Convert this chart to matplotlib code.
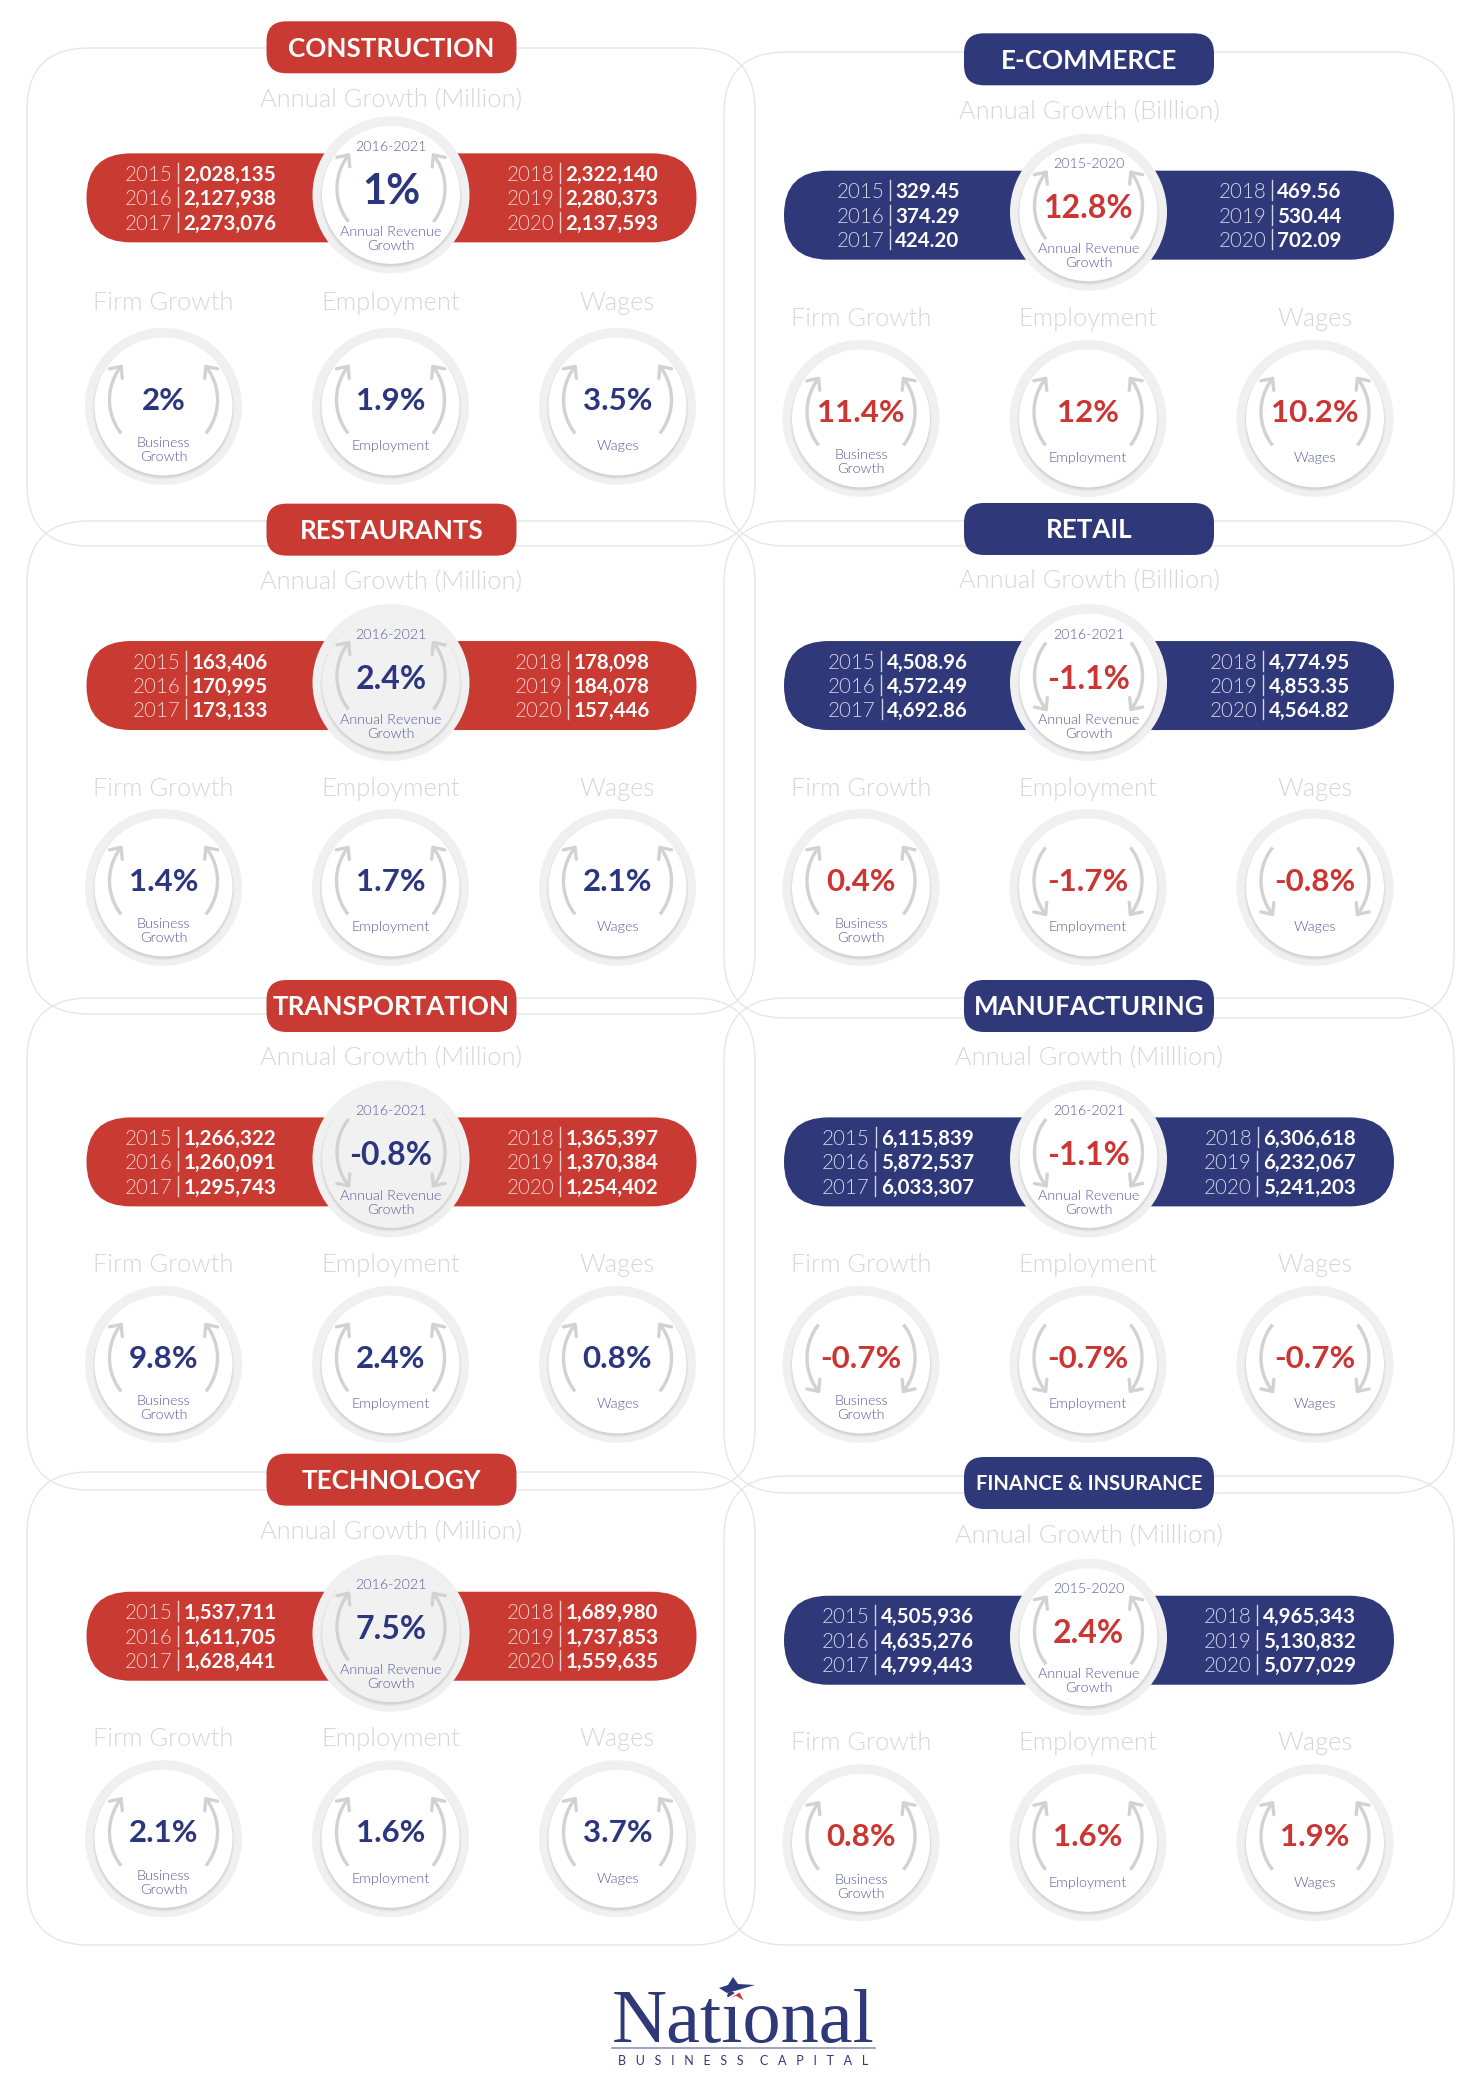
import os
import numpy as np
import matplotlib
matplotlib.use("Agg")
import matplotlib.pyplot as plt
from matplotlib import font_manager as fm
from matplotlib.patches import FancyBboxPatch, Circle, Polygon

# ---------- data ----------
SECTORS = ["CONSTRUCTION", "E-COMMERCE", "RESTAURANTS", "RETAIL",
           "TRANSPORTATION", "MANUFACTURING", "TECHNOLOGY", "FINANCE & INSURANCE"]
UNITS = ["Annual Growth (Million)", "Annual Growth (Billlion)", "Annual Growth (Million)",
         "Annual Growth (Billlion)", "Annual Growth (Million)", "Annual Growth (Milllion)",
         "Annual Growth (Million)", "Annual Growth (Milllion)"]
PERIODS = ["2016-2021", "2015-2020", "2016-2021", "2016-2021",
           "2016-2021", "2016-2021", "2016-2021", "2015-2020"]
YEARS = [2015, 2016, 2017, 2018, 2019, 2020]
REVENUE = [
    [2028135, 2127938, 2273076, 2322140, 2280373, 2137593],
    [329.45, 374.29, 424.20, 469.56, 530.44, 702.09],
    [163406, 170995, 173133, 178098, 184078, 157446],
    [4508.96, 4572.49, 4692.86, 4774.95, 4853.35, 4564.82],
    [1266322, 1260091, 1295743, 1365397, 1370384, 1254402],
    [6115839, 5872537, 6033307, 6306618, 6232067, 5241203],
    [1537711, 1611705, 1628441, 1689980, 1737853, 1559635],
    [4505936, 4635276, 4799443, 4965343, 5130832, 5077029],
]
REVENUE_GROWTH = [1, 12.8, 2.4, -1.1, -0.8, -1.1, 7.5, 2.4]
FIRM_GROWTH = [2, 11.4, 1.4, 0.4, 9.8, -0.7, 2.1, 0.8]
EMPLOYMENT = [1.9, 12, 1.7, -1.7, 2.4, -0.7, 1.6, 1.6]
WAGES = [3.5, 10.2, 2.1, -0.8, 0.8, -0.7, 3.7, 1.9]
COLUMN_HEADS = ["Firm Growth", "Employment", "Wages"]
GAUGE_LABELS = [["Business", "Growth"], ["Employment"], ["Wages"]]

# ---------- layout / style (pixel space of the picture) ----------
S = 1479 / 1110
RED, NAVY = "#c93a33", "#2f3879"
TEXT_RED, TEXT_NAVY = "#cb3532", "#2b367f"
LABEL = "#565e98"
PALE = "#d6d6d6"
ARROW = "#d2d2d2"
PANEL_X = [391.5, 1089]
PANEL_BOX = [(27, 48, 755, 546), (724, 52, 1454, 546), (27, 521, 755, 1014), (724, 521, 1454, 1018),
             (27, 998, 755, 1490), (724, 998, 1454, 1493), (27, 1472, 755, 1945), (724, 1476, 1454, 1945)]
ROWS = [(35.5, 74, 148.5, 226, 305), (44.5, 83, 161.5, 238, 314),
        (397.5, 436, 514.5, 590.5, 666), (397, 435, 514.5, 590.5, 666),
        (755, 793, 872, 948, 1024), (755, 793, 872, 948, 1024),
        (1110.5, 1149, 1228, 1304, 1380), (1113, 1152, 1231, 1307, 1383)]
TITLE_SIZE = [18.7, 18.7, 18.7, 18.7, 18.7, 18.7, 18.7, 14.5]
GREY_DISC = [False, False, True, False, True, False, True, False]

plt.rcParams["font.family"] = ["Lato", "DejaVu Sans"]


def pick_font(*basenames):
    files = {os.path.basename(f.fname).lower(): f.fname for f in fm.fontManager.ttflist}
    for b in basenames:
        if b.lower() in files:
            return fm.FontProperties(fname=files[b.lower()])
    return fm.FontProperties(family="Lato")


LIGHT = pick_font("Lato-Light.ttf", "Lato-Regular.ttf")
BOLD = pick_font("Lato-Bold.ttf")
REGULAR = pick_font("Lato-Regular.ttf")


def sized(base, size):
    p = base.copy()
    p.set_size(size)
    return p


def light(size):
    return sized(LIGHT, size)


def bold(size):
    return sized(BOLD, size)


fig = plt.figure(figsize=(14.79, 20.87), dpi=100, facecolor="white")
ax = fig.add_axes([0, 0, 1, 1])
ax.set_xlim(0, 1479)
ax.set_ylim(2087, 0)
ax.axis("off")


def fmt(v):
    return f"{v:,.2f}" if isinstance(v, float) else f"{v:,}"


def pct(v):
    return f"{v:g}%"


def rounded(x0, y0, x1, y1, rad, z=1, **kw):
    ax.add_patch(FancyBboxPatch((x0 + rad, y0 + rad), x1 - x0 - 2 * rad, y1 - y0 - 2 * rad,
                                boxstyle=f"round,pad={rad},rounding_size={rad}", zorder=z, **kw))


def arrow(cx, cy, sign, up):
    r, oy = 54.0, -6.5
    lim = np.radians(38.3)
    a = np.linspace(lim, -lim, 40) if up else np.linspace(-lim, lim, 40)
    x = cx + sign * (-r * np.cos(a))
    y = cy + oy + r * np.sin(a)
    ax.plot(x, y, color=ARROW, lw=2.4, solid_capstyle="butt", zorder=6)
    d = np.array([x[-1] - x[-3], y[-1] - y[-3]])
    d /= np.hypot(*d)
    for ang in (np.radians(42), -np.radians(42)):
        c, s = np.cos(ang), np.sin(ang)
        b = np.array([c * d[0] - s * d[1], s * d[0] + c * d[1]])
        ax.plot([x[-1], x[-1] - 12 * b[0]], [y[-1], y[-1] - 12 * b[1]],
                color=ARROW, lw=2.4, solid_capstyle="round", zorder=6)


def gauge(cx, cy, value, labels, color, fs, dy, top=None, fill="white"):
    ax.add_patch(Circle((cx, cy), 78.5, fc="#f0f0f0", ec="none", zorder=4))
    for i in range(5):
        ax.add_patch(Circle((cx, cy + 2), 68.5 + (4 - i) * 0.6, fc="black", ec="none", alpha=0.025, zorder=4))
    ax.add_patch(Circle((cx, cy), 69, fc=fill, ec="none", zorder=5))
    up = value >= 0
    arrow(cx, cy, 1, up)
    arrow(cx, cy, -1, up)
    ax.text(cx, cy + dy, pct(value), color=color, fontproperties=bold(fs),
            ha="center", va="center_baseline", zorder=7)
    if top:
        ax.text(cx, cy - 48, top, color=LABEL, fontproperties=light(10.3),
                ha="center", va="center", zorder=7)
    if len(labels) == 1:
        ax.text(cx, cy + 40, labels[0], color=LABEL, fontproperties=light(10.4),
                ha="center", va="center", zorder=7)
    else:
        for k, s in enumerate(labels):
            ax.text(cx, cy + 37 + 14 * k, s, color=LABEL, fontproperties=light(10.4),
                    ha="center", va="center", zorder=7)


renderer = fig.canvas.get_renderer()


def width(s, fp):
    t = ax.text(0, 0, s, fontproperties=fp)
    w = t.get_window_extent(renderer).width
    t.remove()
    return w


for i, box in enumerate(PANEL_BOX):
    x0, y0, x1, y1 = box
    rounded(x0, y0, x1, y1, 62, z=1, fc="none", ec="#e6e6e6", lw=1)

for i, name in enumerate(SECTORS):
    cx = PANEL_X[i % 2]
    y_title, y_unit, y_bar, y_head, y_small = [v * S for v in ROWS[i]]
    left_col = i % 2 == 0
    band = RED if left_col else NAVY
    ink = TEXT_NAVY if left_col else TEXT_RED

    rounded(cx - 125, y_title - 26, cx + 125, y_title + 26, 20, z=3, fc=band, ec="none")
    ax.text(cx, y_title - 0.5, name, color="white", fontproperties=bold(TITLE_SIZE[i]),
            ha="center", va="center_baseline", zorder=7)
    ax.text(cx, y_unit + 2, UNITS[i], color=PALE, fontproperties=light(18.3),
            ha="center", va="center", zorder=3)

    rounded(cx - 305, y_bar - 44.5, cx + 305, y_bar + 44.5, 44.4, z=3, fc=band, ec="none")
    for j, (yr, v) in enumerate(zip(YEARS, REVENUE[i])):
        side = -1 if j < 3 else 1
        row = j % 3
        y = y_bar + (row - 1) * 24.4 - 0.5
        sval = fmt(v)
        fv, fy = bold(14.8), light(14.8)
        wv = width(sval, fv)
        wy = width(str(yr), fy)
        gap = 11
        left = cx + side * 191 - (wy + gap + wv) / 2
        sep = left + wy + gap / 2
        year_col = "#f3cfca" if left_col else "#d3d6e8"
        ax.text(left, y, str(yr), color=year_col, ha="left", va="center_baseline", zorder=7, fontproperties=fy)
        ax.plot([sep, sep], [y - 10, y + 10], color=year_col, lw=1, zorder=7)
        ax.text(left + wy + gap, y, sval, color="white", ha="left", va="center_baseline", zorder=7, fontproperties=fv)

    big_fs = 30 if abs(REVENUE_GROWTH[i]) == 1 else 23
    gauge(cx - 0.5, y_bar - 3, REVENUE_GROWTH[i], ["Annual Revenue", "Growth"], ink, big_fs, -6,
          top=PERIODS[i], fill="#f1f1f2" if GREY_DISC[i] else "white")

    for k, vals in enumerate((FIRM_GROWTH, EMPLOYMENT, WAGES)):
        gx = cx - 1 + (k - 1) * 227
        ax.text(gx, y_head + 2, COLUMN_HEADS[k], color=PALE, fontproperties=light(18.3),
                ha="center", va="center", zorder=3)
        gauge(gx, y_small, vals[i], GAUGE_LABELS[k], ink, 22.5, -8)

# ---------- logo ----------
ax.text(743, 2042, "National", family="Liberation Serif", fontsize=55, color=NAVY,
        ha="center", va="baseline", zorder=7)
ax.plot([612, 875], [2048, 2048], color="#8f94b8", lw=1.2, zorder=7)
ax.text(743, 2061, "   ".join("BUSINESS") + "     " + "   ".join("CAPITAL"), color=NAVY,
        fontproperties=sized(REGULAR, 9.0), ha="center", va="center", zorder=7)
ax.add_patch(Polygon([(733, 1977), (738, 1984), (755, 1985), (738, 1990), (727, 1993), (719, 1988), (728, 1985)],
                     fc=NAVY, ec="none", zorder=8))
ax.add_patch(Polygon([(721, 2003), (740, 1991), (746, 2003), (736, 1997)], fc=RED, ec="white", lw=1.5, zorder=8))

fig.savefig("out.png", dpi=100, facecolor="white")
